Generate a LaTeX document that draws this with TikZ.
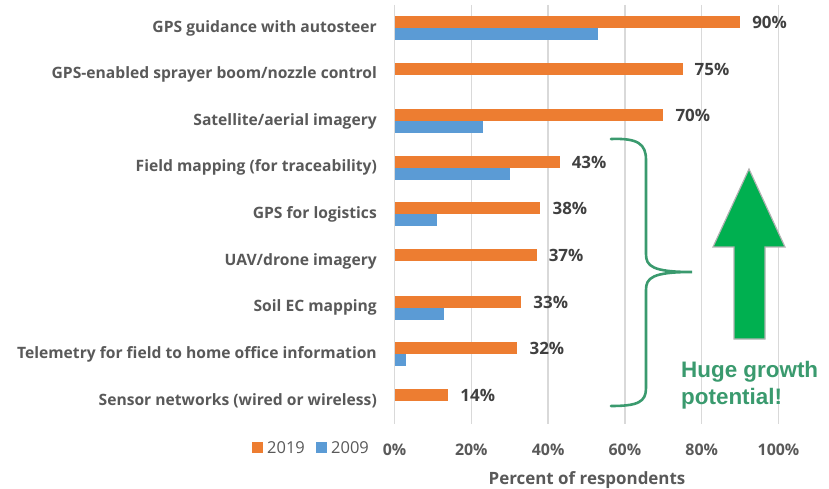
\documentclass[tikz,border=0pt]{standalone}
\usepackage{fontspec}
\setmainfont{Open Sans}
\newfontfamily\arialfont{Liberation Sans}
\usepackage{xcolor}
\usepackage{tikz}
\usetikzlibrary{calc}

\definecolor{bar19}{HTML}{ED7D31}
\definecolor{bar09}{HTML}{5B9BD5}
\definecolor{gridline}{HTML}{D9D9D9}
\definecolor{axistext}{HTML}{595959}
\definecolor{valtext}{HTML}{404040}
\definecolor{growth}{HTML}{3A9A6E}
\definecolor{uparrow}{HTML}{00B050}

\begin{document}
\begin{tikzpicture}[x=1bp,y=-1bp,
  catlabel/.style={anchor=east,inner sep=0pt,text=axistext,font=\fontsize{15.7}{18}\selectfont\bfseries},
  vallabel/.style={anchor=west,inner sep=0pt,text=valtext,font=\fontsize{17}{19}\selectfont\bfseries},
  ticklabel/.style={inner sep=0pt,text=axistext,font=\fontsize{16}{18}\selectfont\bfseries},
  keylabel/.style={anchor=west,inner sep=0pt,text=axistext,font=\fontsize{16.5}{18}\selectfont},
  growthlabel/.style={anchor=base west,inner sep=0pt,text=growth,font=\arialfont\fontsize{22.5}{26}\selectfont\bfseries}]
\useasboundingbox (0,0) rectangle (829,489);

% grid and axis
\foreach \p in {0,20,...,100}{
  \draw[gridline,line width=1.3] ({394.5+3.84*\p},5) -- ({394.5+3.84*\p},424);
  \node[ticklabel] (tick\p) at ({394.5+3.84*\p},450) {\p\%};
}
\node[ticklabel,font=\fontsize{17}{19}\selectfont\bfseries] (xtitle) at (587,480) {Percent of respondents};

% bars: label / 2019 / 2009
\foreach \tech/\new/\old [count=\i from 0] in {
  GPS guidance with autosteer/90/53,
  {GPS-enabled sprayer boom/nozzle control}/75/0,
  {Satellite/aerial imagery}/70/23,
  Field mapping (for traceability)/43/30,
  GPS for logistics/38/11,
  {UAV/drone imagery}/37/0,
  Soil EC mapping/33/13,
  Telemetry for field to home office information/32/3,
  Sensor networks (wired or wireless)/14/0}{
  \pgfmathsetmacro\yc{28+46.6*\i}
  \fill[bar19] (394.5,\yc-12) rectangle ({394.5+3.84*\new},\yc);
  \ifnum\old>0
    \fill[bar09] (394.5,\yc) rectangle ({394.5+3.84*\old},\yc+12);
  \fi
  \node[catlabel] (cat\i) at (377,\yc) {\tech};
  \node[vallabel] (val\i) at ({394.5+3.84*\new+12},\yc-5.5) {\new\%};
}

% legend
\fill[bar19] (252,442) rectangle (262.5,452.5);
\node[keylabel] (key19) at (267,447.5) {2019};
\fill[bar09] (316,442) rectangle (326.5,452.5);
\node[keylabel] (key09) at (331,447.5) {2009};

\draw[growth,line width=2.6,line cap=round] (611,139) .. controls (638,138) and (646,144) .. (646,160)
  -- (646,254) .. controls (646,266) and (652,272) .. (692,272)
  .. controls (652,272) and (646,278) .. (646,290)
  -- (646,388) .. controls (646,402) and (638,406) .. (611,406);

\filldraw[fill=uparrow,draw=black!30,line width=1.2] (749,169) -- (785,247) -- (765,247)
  -- (765,339) -- (734,339) -- (734,247) -- (713,247) -- cycle;

\node[growthlabel] (growth1) at (681,377) {Huge growth};
\node[growthlabel] (growth2) at (681,404) {potential!};
\end{tikzpicture}
\end{document}
